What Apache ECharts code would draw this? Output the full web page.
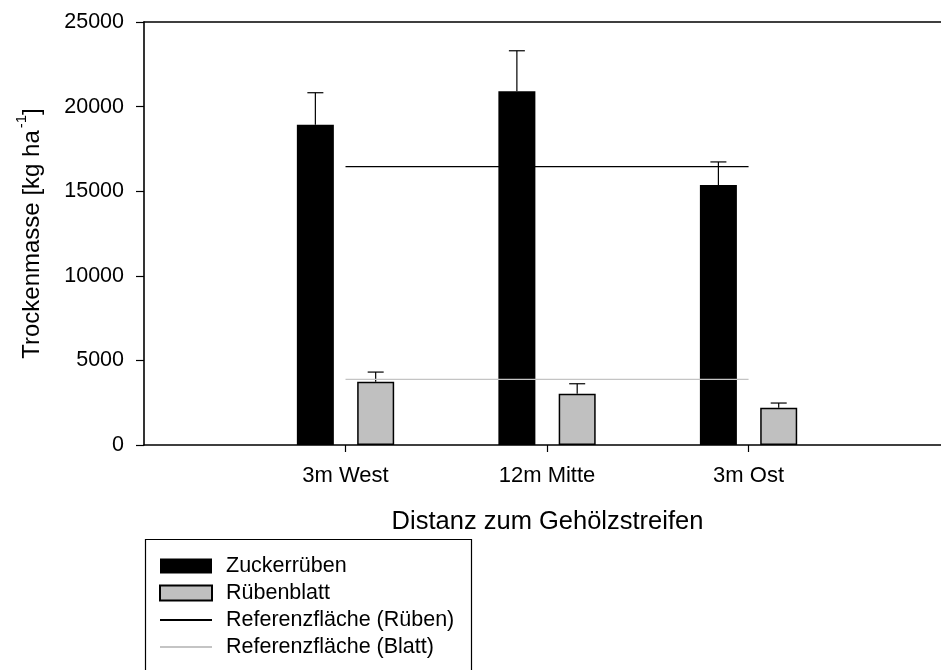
<!DOCTYPE html>
<html>
<head>
<meta charset="utf-8">
<script src="https://cdn.jsdelivr.net/npm/echarts@6/dist/echarts.min.js"></script>
<style>
  html, body { margin: 0; padding: 0; background: #fff; }
  #chart { width: 941px; height: 670px; }
</style>
</head>
<body>
<div id="chart"></div>
<script>
// Dry matter per sampling distance from the shelterbelt
const categories = ['3m West', '12m Mitte', '3m Ost'];
const categoryPos = [1, 2, 3];
const beetMass = [18930, 20900, 15370];      // Zuckerrüben
const beetUpper = [20820, 23300, 16730];     // mean + error
const leafMass = [3740, 3030, 2200];         // Rübenblatt
const leafUpper = [4310, 3620, 2480];        // mean + error
const refBeet = 16450;                       // Referenzfläche (Rüben)
const refLeaf = 3880;                        // Referenzfläche (Blatt)
const yTicks = [0, 5000, 10000, 15000, 20000, 25000];

const FONT = '"Liberation Sans", Arial, sans-serif';
const X_MAX = 3.955;                         // the frame runs slightly past the right edge
const BAR_W = 37;
const BAR_GAP = 0.63;
const HALF_SPAN = (BAR_W * (1 + BAR_GAP)) / 2;

const pairs = (vals) => categoryPos.map((p, i) => [p, vals[i]]);
const errData = (means, uppers) => categoryPos.map((p, i) => [p, means[i], uppers[i]]);

function errorBar(shift) {
  return function (params, api) {
    const base = api.coord([api.value(0), api.value(1)]);
    const top = api.coord([api.value(0), api.value(2)]);
    const cx = base[0] + shift;
    const style = { stroke: '#000', lineWidth: 1.2 };
    return {
      type: 'group',
      children: [
        { type: 'line', shape: { x1: cx, y1: base[1], x2: cx, y2: top[1] }, style },
        { type: 'line', shape: { x1: cx - 8, y1: top[1], x2: cx + 8, y2: top[1] }, style }
      ]
    };
  };
}

const chart = echarts.init(document.getElementById('chart'), null, { renderer: 'canvas' });

chart.setOption({
  animation: false,
  backgroundColor: '#fff',
  textStyle: { fontFamily: FONT, color: '#000' },
  grid: { left: 144, right: 0, top: 22, bottom: 225, containLabel: false },
  // legend frame (runs past the lower edge of the canvas)
  graphic: [
    {
      type: 'rect',
      left: 143,
      top: 537,
      shape: { width: 326, height: 170 },
      style: { fill: 'none', stroke: '#000', lineWidth: 1.2 },
      silent: true
    }
  ],
  legend: {
    orient: 'vertical',
    left: 159,
    top: 555,
    padding: 0,
    itemWidth: 52,
    itemHeight: 15,
    itemGap: 5,
    selectedMode: false,
    textStyle: { fontFamily: FONT, fontSize: 21.5, color: '#000', padding: [0, 0, 0, 9] },
    data: [
      { name: 'Zuckerrüben', icon: 'rect' },
      { name: 'Rübenblatt', icon: 'rect' },
      { name: 'Referenzfläche (Rüben)', itemStyle: { opacity: 0 } },
      { name: 'Referenzfläche (Blatt)', itemStyle: { opacity: 0 } }
    ]
  },
  xAxis: [
    {
      type: 'value',
      min: 0,
      max: X_MAX,
      interval: 1,
      name: 'Distanz zum Gehölzstreifen',
      nameLocation: 'middle',
      nameGap: 64,
      nameTextStyle: { fontFamily: FONT, fontSize: 25.5, color: '#000', padding: [0, 0, 0, 10] },
      axisLine: { show: true, lineStyle: { color: '#000', width: 1.6 } },
      axisTick: { show: true, customValues: categoryPos, length: 7, lineStyle: { color: '#000', width: 1.2 } },
      axisLabel: {
        customValues: categoryPos,
        margin: 20,
        fontFamily: FONT,
        fontSize: 22,
        color: '#000',
        formatter: (v) => categories[categoryPos.indexOf(Math.round(v))] || ''
      },
      splitLine: { show: false }
    },
    {
      type: 'value',
      position: 'top',
      min: 0,
      max: X_MAX,
      axisLine: { show: true, onZero: false, lineStyle: { color: '#000', width: 1.6 } },
      axisTick: { show: false },
      axisLabel: { show: false },
      splitLine: { show: false }
    }
  ],
  yAxis: {
    type: 'value',
    min: yTicks[0],
    max: yTicks[yTicks.length - 1],
    interval: 5000,
    name: '{m|Trockenmasse [kg ha}{s|-1}{m|]}',
    nameLocation: 'middle',
    nameGap: 100,
    nameTextStyle: {
      fontFamily: FONT,
      color: '#000',
      rich: {
        m: { fontFamily: FONT, fontSize: 24, color: '#000', lineHeight: 30, verticalAlign: 'bottom' },
        s: { fontFamily: FONT, fontSize: 15, color: '#000', lineHeight: 30, verticalAlign: 'top', padding: [0, 0, 0, 2] }
      }
    },
    axisLine: { show: true, lineStyle: { color: '#000', width: 1.6 } },
    axisTick: { show: true, length: 8, lineStyle: { color: '#000', width: 1.2 } },
    axisLabel: { margin: 20, fontFamily: FONT, fontSize: 21.5, color: '#000', formatter: (v) => String(v) },
    splitLine: { show: false }
  },
  series: [
    {
      name: 'Zuckerrüben',
      type: 'bar',
      data: pairs(beetMass),
      barWidth: BAR_W,
      barGap: (BAR_GAP * 100) + '%',
      itemStyle: { color: '#000', borderColor: '#000', borderWidth: 0 },
      z: 2
    },
    {
      name: 'Rübenblatt',
      type: 'bar',
      data: pairs(leafMass),
      barWidth: BAR_W,
      barGap: (BAR_GAP * 100) + '%',
      itemStyle: { color: '#c0c0c0', borderColor: '#000', borderWidth: 1.5 },
      z: 2
    },
    {
      name: 'Referenzfläche (Rüben)',
      type: 'line',
      data: [[categoryPos[0], refBeet], [categoryPos[2], refBeet]],
      symbol: 'none',
      lineStyle: { color: '#000', width: 1.2 },
      itemStyle: { color: '#000' },
      z: 4
    },
    {
      name: 'Referenzfläche (Blatt)',
      type: 'line',
      data: [[categoryPos[0], refLeaf], [categoryPos[2], refLeaf]],
      symbol: 'none',
      lineStyle: { color: '#c4c4c4', width: 1.2 },
      itemStyle: { color: '#c4c4c4' },
      z: 4
    },
    {
      name: 'beetError',
      type: 'custom',
      data: errData(beetMass, beetUpper),
      renderItem: errorBar(-HALF_SPAN),
      z: 3
    },
    {
      name: 'leafError',
      type: 'custom',
      data: errData(leafMass, leafUpper),
      renderItem: errorBar(HALF_SPAN),
      z: 3
    }
  ]
});
</script>
</body>
</html>
